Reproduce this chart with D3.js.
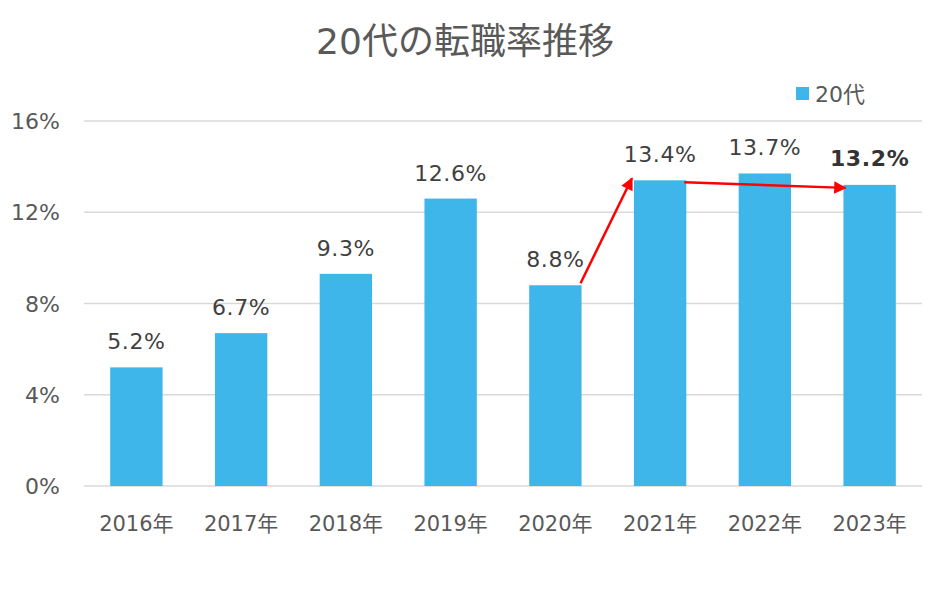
<!DOCTYPE html>
<html><head><meta charset="utf-8">
<script src="https://cdn.jsdelivr.net/npm/d3@7"></script>
<style>body{margin:0;background:#fff}</style>
</head><body><svg id="c" width="937" height="594"></svg>
<script>
const categories = ["2016年","2017年","2018年","2019年","2020年","2021年","2022年","2023年"];
const values = [5.2, 6.7, 9.3, 12.6, 8.8, 13.4, 13.7, 13.2];
const labels = ["5.2%","6.7%","9.3%","12.6%","8.8%","13.4%","13.7%","13.2%"];
const yTicks = [0, 4, 8, 12, 16];
const seriesName = "20代";
const title = "20代の転職率推移";
// arrows: [fromIndex, fromValue, toIndex, toValue]
const arrows = [[4, 8.8, 5, 13.4], [5, 13.4, 7, 13.2]];

const svg = d3.select("#c");
const font = "'DejaVu Sans','Noto Sans CJK JP',sans-serif";
const m = {l: 84, r: 922, t: 121, b: 486};
const x = d3.scaleBand().domain(categories).range([m.l, m.r]).paddingInner(0.5).paddingOuter(0.25);
const y = d3.scaleLinear().domain([0, 16]).range([m.b, m.t]);

svg.append("text").attr("x", 465).attr("y", 54).attr("text-anchor", "middle")
  .attr("font-family", font).attr("font-size", 36).attr("fill", "#595959").text(title);

svg.append("g").selectAll("line").data(yTicks).join("line")
  .attr("x1", m.l).attr("x2", m.r).attr("y1", d => y(d)).attr("y2", d => y(d))
  .attr("stroke", "#d9d9d9").attr("stroke-width", 1.3);

svg.append("g").selectAll("text").data(yTicks).join("text")
  .attr("x", 60).attr("y", d => y(d) + 8).attr("text-anchor", "end")
  .attr("font-family", font).attr("font-size", 22).attr("fill", "#595959").text(d => d + "%");

svg.append("g").selectAll("rect").data(values).join("rect")
  .attr("x", (d, i) => x(categories[i])).attr("width", x.bandwidth())
  .attr("y", d => y(d)).attr("height", d => y(0) - y(d)).attr("fill", "#3fb6e9");

svg.append("g").selectAll("text").data(values).join("text")
  .attr("x", (d, i) => x(categories[i]) + x.bandwidth() / 2)
  .attr("y", (d, i) => y(d) - (i === 7 ? 19 : 18))
  .attr("text-anchor", "middle").attr("font-family", font)
  .attr("font-size", 22).attr("letter-spacing", 0.6)
  .attr("font-weight", (d, i) => i === 7 ? "bold" : "normal")
  .attr("fill", (d, i) => i === 7 ? "#333333" : "#404040")
  .text((d, i) => labels[i]);

svg.append("g").selectAll("text").data(categories).join("text")
  .attr("x", d => x(d) + x.bandwidth() / 2).attr("y", 531).attr("text-anchor", "middle")
  .attr("font-family", font).attr("font-size", 21).attr("fill", "#595959").text(d => d);

// legend
svg.append("rect").attr("x", 796).attr("y", 87).attr("width", 13).attr("height", 13).attr("fill", "#3fb6e9");
svg.append("text").attr("x", 815).attr("y", 102).attr("font-family", font).attr("font-size", 22)
  .attr("fill", "#595959").text(seriesName);

// arrows
svg.append("defs").append("marker").attr("id", "ah").attr("viewBox", "0 0 10 10")
  .attr("refX", 9).attr("refY", 5).attr("markerWidth", 5.5).attr("markerHeight", 5)
  .attr("orient", "auto").attr("markerUnits", "strokeWidth")
  .append("path").attr("d", "M0,0 L10,5 L0,10 z").attr("fill", "#ff0000");
const bw = x.bandwidth();
const arrowCoords = arrows.map(([i0, v0, i1, v1], k) => k === 0
  ? [x(categories[i0]) + bw - 1, y(v0) - 2, x(categories[i1]) - 2, y(v1) - 2]
  : [x(categories[i0]) + bw - 2, y(v0) + 2, x(categories[i1]) + 2, y(v1) + 3]);
svg.append("g").selectAll("line").data(arrowCoords).join("line")
  .attr("x1", d => d[0]).attr("y1", d => d[1]).attr("x2", d => d[2]).attr("y2", d => d[3])
  .attr("stroke", "#ff0000").attr("stroke-width", 2.5).attr("marker-end", "url(#ah)");
</script></body></html>
